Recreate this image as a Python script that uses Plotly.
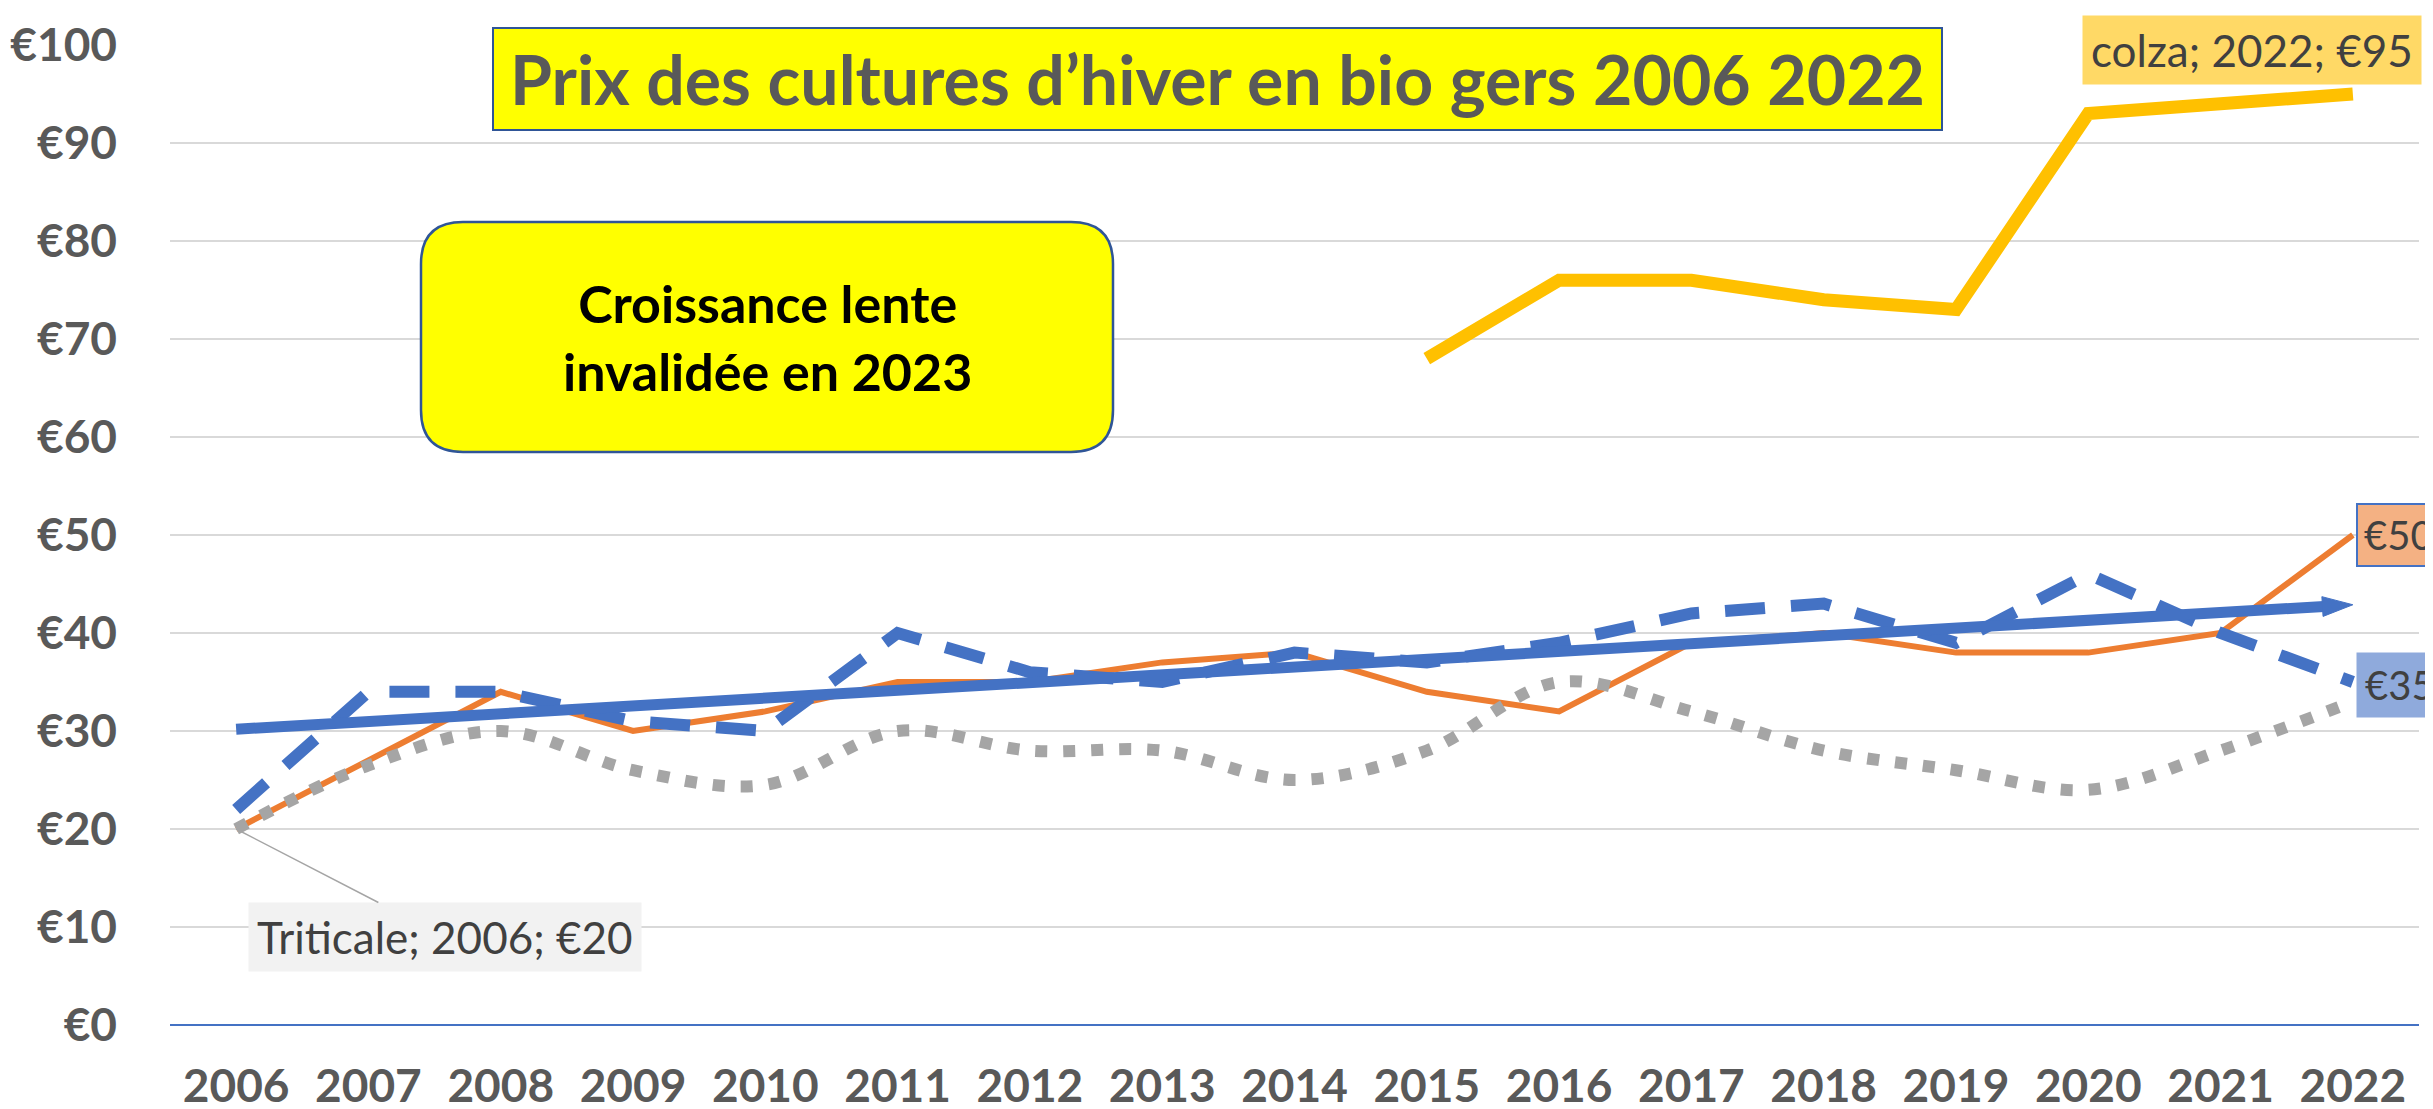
import numpy as np
import plotly.graph_objects as go

# prix (EUR) des cultures d'hiver en bio, Gers
annees = [2006, 2007, 2008, 2009, 2010, 2011, 2012, 2013, 2014,
          2015, 2016, 2017, 2018, 2019, 2020, 2021, 2022]
ble = [20, 27, 34, 30, 32, 35, 35, 37, 38, 34, 32, 39, 40, 38, 38, 40, 50]
orge = [22, 34, 34, 31, 30, 40, 36, 35, 38, 37, 39, 42, 43, 39, 46, 40, 35]
triticale = [20, 26.5, 30, 26, 24.5, 30, 28, 28, 25, 28, 35, 32, 28, 26, 24, 28, 33]
colza = [None, None, None, None, None, None, None, None, None,
         68, 76, 76, 74, 73, 93, 94, 95]
y_ticks = [0, 10, 20, 30, 40, 50, 60, 70, 80, 90, 100]
y_labels = [f"€{v}" for v in y_ticks]

W, H = 2433, 1109
L, R, T, B = 162, 22, 37, 92
PW, PH = W - L - R, H - T - B


def px(x):
    return (x - L) / PW


def py(y):
    return (H - B - y) / PH


def rounded_box(x0, y0, x1, y1, r):
    a, b, c, d = px(x0), py(y0), px(x1), py(y1)
    rx, ry = r / PW, r / PH
    return (f"M {a + rx},{b} L {c - rx},{b} Q {c},{b} {c},{b - ry} "
            f"L {c},{d + ry} Q {c},{d} {c - rx},{d} "
            f"L {a + rx},{d} Q {a},{d} {a},{d + ry} "
            f"L {a},{b - ry} Q {a},{b} {a + rx},{b} Z")


# tendance linéaire (comme la courbe de tendance Excel)
pente, origine = np.polyfit(annees, orge, 1)
tendance = [pente * a + origine for a in annees]

fig = go.Figure()

fig.add_trace(go.Scatter(x=annees, y=ble, mode="lines", name="blé",
                         line=dict(color="#ED7D31", width=6)))
fig.add_trace(go.Scatter(x=annees, y=orge, mode="lines", name="orge",
                         line=dict(color="#4472C4", width=12, dash="40px,26px")))
fig.add_trace(go.Scatter(x=annees, y=triticale, mode="lines", name="Triticale",
                         line=dict(color="#A5A5A5", width=12, dash="12px,16px",
                                   shape="spline", smoothing=1.0)))
fig.add_trace(go.Scatter(x=annees, y=colza, mode="lines", name="colza",
                         line=dict(color="#FFC000", width=13)))
fig.add_trace(go.Scatter(
    x=annees, y=tendance, mode="lines+markers", name="tendance",
    line=dict(color="#4472C4", width=11),
    marker=dict(symbol="arrow", angleref="previous", color="#4472C4", opacity=1,
                line=dict(color="#4472C4", width=1),
                size=[0] * (len(annees) - 1) + [32]),
))

lbl_font = dict(family="Lato", size=44, color="#404040")

annotations = [
    dict(x=px((485 + 1934) / 2), y=py(71), xref="paper", yref="paper",
         xanchor="center", yanchor="middle",
         text="Prix des cultures d’hiver en bio gers 2006 2022", showarrow=False,
         font=dict(family="Lato", size=68, color="#595959", weight="bold")),
    dict(x=px(759), y=py(329), xref="paper", yref="paper",
         xanchor="center", yanchor="middle",
         text="Croissance lente<br>invalidée en 2023", showarrow=False,
         font=dict(family="Lato", size=52, color="#000000", weight="bold")),
    dict(x=annees[-1], y=colza[-1], text="colza; 2022; €95", showarrow=False,
         xanchor="left", yanchor="bottom", xshift=-271, yshift=9,
         bgcolor="#FFD966", borderpad=8, font=lbl_font),
    dict(x=annees[-1], y=ble[-1], text="€50", showarrow=False,
         xanchor="left", yanchor="middle", xshift=3, yshift=0,
         bgcolor="#F4B183", bordercolor="#4472C4", borderwidth=2, borderpad=6,
         font=dict(family="Lato", size=40, color="#404040")),
    dict(x=annees[-1], y=orge[-1], text="€35", showarrow=False,
         xanchor="left", yanchor="middle", xshift=3, yshift=-3,
         bgcolor="#8FAADC", borderpad=8,
         font=dict(family="Lato", size=40, color="#404040")),
    dict(x=annees[0], y=triticale[0], text="Triticale; 2006; €20",
         showarrow=True, arrowhead=0, arrowwidth=1.5, arrowcolor="#A5A5A5",
         ax=209, ay=108, bgcolor="#F2F2F2", borderpad=8, font=lbl_font),
]

shapes = [
    dict(type="rect", xref="paper", yref="paper",
         x0=px(485), x1=px(1934), y0=py(20), y1=py(122),
         fillcolor="#FFFF00", line=dict(color="#2F5597", width=2), layer="above"),
    dict(type="path", xref="paper", yref="paper",
         path=rounded_box(413, 214, 1105, 444, 42),
         fillcolor="#FFFF00", line=dict(color="#2F5597", width=2.5), layer="above"),
]

fig.update_layout(
    width=W, height=H,
    margin=dict(l=L, r=R, t=T, b=B, autoexpand=False),
    plot_bgcolor="white", paper_bgcolor="white",
    showlegend=False,
    annotations=annotations,
    shapes=shapes,
    xaxis=dict(range=[2005.5, 2022.5], tickvals=annees, showgrid=False,
               zeroline=False, showline=False, ticks="", automargin=False,
               ticklabelstandoff=30,
               tickfont=dict(family="Lato", size=46, color="#595959", weight="bold")),
    yaxis=dict(range=[0, 100], tickvals=y_ticks, ticktext=y_labels,
               showgrid=True, gridcolor="#D9D9D9", gridwidth=2,
               zeroline=True, zerolinecolor="#4472C4", zerolinewidth=2,
               showline=False, ticks="", automargin=False, ticklabelstandoff=52,
               tickfont=dict(family="Lato", size=46, color="#595959", weight="bold")),
)

fig.write_html("out.html")
